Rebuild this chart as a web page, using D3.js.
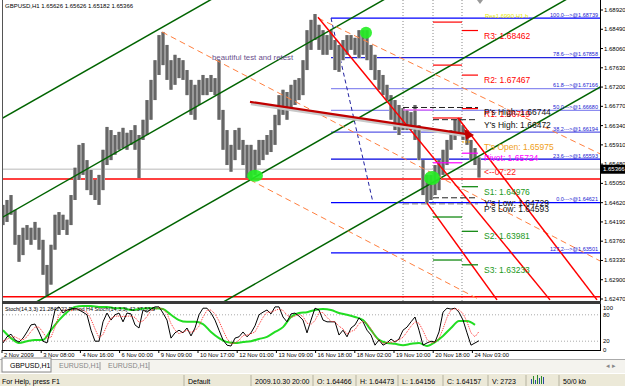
<!DOCTYPE html>
<meta charset="utf-8">
<style>
body { margin: 0; background: #fff; }
text { font-family: "Liberation Sans", Arial, sans-serif; }
</style>
<body>
<script src="https://d3js.org/d3.v7.min.js"></script>
<script>
// GBPUSD H1 bars, each point is a small group of hourly bars (high / low)
var barHigh = [1.6457,1.6468,1.6479,1.6446,1.6390,1.6406,1.6412,1.6406,1.6419,1.6406,
  1.6379,1.6323,1.6368,1.6435,1.6441,1.6435,1.6424,1.6479,1.6540,1.6591,
  1.6595,1.6557,1.6535,1.6513,1.6524,1.6580,1.6631,1.6624,1.6613,1.6620,
  1.6629,1.6618,1.6624,1.6635,1.6613,1.6647,1.6691,1.6736,1.6780,1.6836,
  1.6843,1.6814,1.6780,1.6792,1.6785,1.6780,1.6758,1.6736,1.6725,1.6736,
  1.6747,1.6740,1.6747,1.6740,1.6780,1.6669,1.6624,1.6591,1.6624,1.6629,
  1.6602,1.6591,1.6591,1.6580,1.6602,1.6602,1.6613,1.6624,1.6658,1.6702,
  1.6714,1.6709,1.6725,1.6736,1.6740,1.6780,1.6847,1.6870,1.6883,1.6859,
  1.6847,1.6836,1.6847,1.6825,1.6814,1.6825,1.6836,1.6836,1.6830,1.6847,
  1.6847,1.6847,1.6814,1.6792,1.6758,1.6747,1.6725,1.6702,1.6691,1.6680,
  1.6673,1.6669,1.6664,1.6680,1.6635,1.6557,1.6524,1.6524,1.6546,1.6557,
  1.6580,1.6602,1.6624,1.6647,1.6651,1.6635,1.6624,1.6602,1.6584,1.6563];
var barLow = [1.6412,1.6419,1.6435,1.6368,1.6330,1.6345,1.6379,1.6368,1.6379,1.6357,
  1.6301,1.6254,1.6279,1.6357,1.6390,1.6401,1.6390,1.6412,1.6468,1.6513,
  1.6524,1.6490,1.6479,1.6468,1.6457,1.6490,1.6546,1.6557,1.6569,1.6580,
  1.6584,1.6580,1.6591,1.6580,1.6517,1.6602,1.6613,1.6647,1.6691,1.6747,
  1.6769,1.6736,1.6714,1.6725,1.6740,1.6736,1.6702,1.6658,1.6647,1.6680,
  1.6702,1.6702,1.6709,1.6702,1.6647,1.6580,1.6546,1.6531,1.6557,1.6580,
  1.6546,1.6517,1.6513,1.6524,1.6546,1.6557,1.6569,1.6575,1.6591,1.6635,
  1.6658,1.6647,1.6669,1.6680,1.6691,1.6702,1.6758,1.6803,1.6825,1.6803,
  1.6792,1.6792,1.6803,1.6758,1.6754,1.6780,1.6792,1.6803,1.6792,1.6785,
  1.6792,1.6780,1.6758,1.6736,1.6714,1.6702,1.6691,1.6647,1.6624,1.6613,
  1.6624,1.6624,1.6624,1.6602,1.6557,1.6479,1.6461,1.6468,1.6479,1.6490,
  1.6524,1.6546,1.6580,1.6602,1.6613,1.6602,1.6591,1.6557,1.6546,1.6518];

// stochastic (14,3,3) main / signal, and H4 stoch (every 2nd point)
var stochMain = [16,30,36,23,18,27,41,57,59,41, 20,16,50,91,98,84,91,93,95,91,
  86,80,45,20,20,64,84,68,80,84, 64,84,82,57,50,91,86,93,98,98,
  84,68,27,39,45,39,50,32,50,80, 95,95,84,68,45,23,11,9,27,30,
  41,30,39,55,80,86,91,82,98,98, 75,64,82,84,77,68,39,68,95,91,
  68,64,64,64,34,45,30,50,57,73, 64,45,34,11,23,11,16,25,18,25,
  45,52,64,75,45,11,16,20,18,41, 86,95,93,95,86,68,39,11,16,21];
var stochSignal = [20,24,30,30,25,23,30,42,52,52, 40,26,29,52,80,91,91,89,93,93,
  90,86,70,48,28,35,56,72,77,77, 76,77,77,74,63,66,76,90,92,96,
  93,83,60,45,37,41,45,40,44,54, 75,90,91,82,66,45,26,14,16,22,
  33,34,37,41,58,74,86,86,90,93, 90,79,74,77,81,76,61,58,67,85,
  85,74,65,64,54,48,36,42,46,60, 65,61,48,30,22,15,17,17,20,23,
  29,41,54,64,61,44,24,16,18,26, 48,74,91,94,91,83,64,39,30,42];
var stochH4 = [45,27,16,20,23,23,45,68,86,98, 100,100,98,98,95,95,91,93,95,95,
  93,80,68,64,64,59,41,27,18,16, 18,20,25,30,41,52,75,84,86,91,
  93,91,84,80,75,68,45,23,16,14, 11,14,16,9,18,32,50,66,66,57];

var priceTicks = ["1.68920","1.68490","1.68060","1.67630","1.67200","1.66770","1.66340","1.65910",
  "1.65480","1.65050","1.64620","1.64190","1.63760","1.63330","1.62900","1.62470"];
var timeLabels = ["2 Nov 2009","3 Nov 08:00","4 Nov 16:00","6 Nov 00:00","9 Nov 09:00","10 Nov 17:00",
  "12 Nov 01:00","13 Nov 09:00","16 Nov 18:00","18 Nov 02:00","19 Nov 10:00","20 Nov 18:00","24 Nov 03:00"];
var timeIdx = [-0.25,9.55,19.35,29.15,38.95,48.75,58.55,68.35,78.15,87.95,97.75,107.55,117.35];

// drawn objects: [index, price] pairs
var channelLines = [[[0,1.6651],[51.75,1.6914]], [[0,1.6430],[95,1.6914]],
  [[11,1.6254],[140.5,1.6914]], [[56,1.6245],[149.25,1.6720]]];
var dashLines = [[[39.75,1.6843],[149.25,1.6332]], [[78.75,1.6874],[149.25,1.6571]],
  [[61.75,1.6513],[119.25,1.6245]]];
var redLines = [[[78.75,1.6876],[136.75,1.6245]], [[106,1.6461],[123.5,1.6245]],
  [[113.75,1.6651],[148.5,1.6245]]];
var trendArrow = [[61.75,1.6687],[116,1.6615]];
var redLevels = [1.6515, 1.6252];
var bid = 1.65366;

var fibNames = ["100.0","78.6","61.8","50.0","38.2","23.6","0.0","127.2"];
var fibPrices = [1.68739,1.67858,1.67166,1.66680,1.66194,1.65593,1.64621,1.63501];
var fibColors = ["#0000ff","#2323dd","#8c8cf0","#8c8cf0","#5a5ae6","#0000e0","#0000ff","#0000ff"];
var fibLeg = [[82,1.68739],[92.5,1.64621]];

var daySeps = [100, 107.5, 114.75];
var pivotNames = ["R3","R2","R1","Pivot","S1","S2","S3"];
var pivotToday = [1.68462,1.67467,1.66719,1.65724,1.64976,1.63981,1.63233];
var pivotPrev = [1.6865,1.6769,1.6651,1.6551,1.6430,1.6334,null];
var pivotColors = ["#ff0000","#ff0000","#ff0000","#ff00ff","#008000","#008000","#008000"];
var extraNames = ["P's High","Y's High","Y's Low","P's Low"];
var extraPrices = [1.66744,1.66472,1.64729,1.64593];
var extraStart = [100,107.5,107.5,100];
var tOpen = 1.65975;
var circles = [[63,1.6522,8,6],[107.25,1.6517,8,7],[90.75,1.6841,6,6]];

var W = 625, H = 386;
var svg = d3.select("body").append("svg").attr("width", W).attr("height", H).style("display", "block");
svg.append("rect").attr("width", W).attr("height", H).attr("fill", "#fff");

var x = d3.scaleLinear().domain([0, 119]).range([3, 479]);
var y = d3.scaleLinear().domain([1.62470, 1.68920]).range([299, 10]);
var ys = d3.scaleLinear().domain([0, 100]).range([350, 306]);

svg.append("clipPath").attr("id", "mainClip").append("rect")
  .attr("x", 3).attr("y", 0).attr("width", 597).attr("height", 301);
svg.append("clipPath").attr("id", "stClip").append("rect")
  .attr("x", 3).attr("y", 304).attr("width", 597).attr("height", 46);

var g = svg.append("g").attr("clip-path", "url(#mainClip)");
var line = d3.line().x(function(d) { return x(d[0]); }).y(function(d) { return y(d[1]); });

// day separators
g.selectAll(".sep").data(daySeps).enter().append("line")
  .attr("x1", function(d) { return x(d); }).attr("x2", function(d) { return x(d); })
  .attr("y1", 0).attr("y2", 301).attr("stroke", "#888").attr("stroke-dasharray", "1,2");

// bid line and red levels
g.append("line").attr("x1", 3).attr("x2", 600).attr("y1", y(bid)).attr("y2", y(bid))
  .attr("stroke", "#d0d0d0").attr("stroke-width", 1.5);
g.selectAll(".lvl").data(redLevels).enter().append("line")
  .attr("x1", 3).attr("x2", 600).attr("y1", function(d) { return y(d); }).attr("y2", function(d) { return y(d); })
  .attr("stroke", "#ff0000").attr("stroke-width", 1.5);

// fibonacci
g.selectAll(".fib").data(fibPrices).enter().append("line")
  .attr("x1", x(82)).attr("x2", 600).attr("y1", function(d) { return y(d); }).attr("y2", function(d) { return y(d); })
  .attr("stroke", function(d, i) { return fibColors[i]; }).attr("stroke-width", 1.2);
g.append("path").attr("d", line(fibLeg)).attr("stroke", "#2020a0").attr("fill", "none").attr("stroke-dasharray", "4,3");

// bars
g.selectAll(".bar").data(barHigh).enter().append("rect")
  .attr("x", function(d, i) { return x(i) - 2; }).attr("width", 4)
  .attr("y", function(d) { return y(d); })
  .attr("height", function(d, i) { return y(barLow[i]) - y(d); })
  .attr("fill", "#9a9a9a");
g.selectAll(".wick").data(barHigh).enter().append("line")
  .attr("x1", function(d, i) { return x(i); }).attr("x2", function(d, i) { return x(i); })
  .attr("y1", function(d) { return y(d); }).attr("y2", function(d, i) { return y(barLow[i]); })
  .attr("stroke", "#333").attr("stroke-width", 1);

// channel lines
g.selectAll(".ch").data(channelLines).enter().append("path")
  .attr("d", function(d) {
    var a = d[0], b = d[1], s = (b[1] - a[1]) / (b[0] - a[0]);
    return line([[-10, a[1] + s * (-10 - a[0])], [160, a[1] + s * (160 - a[0])]]);
  })
  .attr("stroke", "#006400").attr("stroke-width", 1.5).attr("fill", "none");
g.selectAll(".dl").data(dashLines).enter().append("path")
  .attr("d", line).attr("stroke", "#ff7f3f").attr("stroke-width", 1).attr("fill", "none")
  .attr("stroke-dasharray", "6,4");
g.selectAll(".rl").data(redLines).enter().append("path")
  .attr("d", line).attr("stroke", "#ff0000").attr("stroke-width", 1.5).attr("fill", "none");

// trend arrow with shadow
g.append("path").attr("d", line(trendArrow)).attr("transform", "translate(1,2)")
  .attr("stroke", "#c8c8c8").attr("stroke-width", 3).attr("fill", "none");
g.append("path").attr("d", line(trendArrow)).attr("stroke", "#c00000").attr("stroke-width", 2.2).attr("fill", "none");
var ax = x(trendArrow[1][0]), ay = y(trendArrow[1][1]);
g.append("path").attr("d", "M" + (ax + 7) + "," + (ay + 1) + "L" + (ax - 3) + "," + (ay - 5) + "L" + (ax - 1) + "," + (ay + 6) + "Z")
  .attr("fill", "#c00000");

// pivot segments
pivotToday.forEach(function(p, i) {
  g.append("line").attr("x1", x(114.75)).attr("x2", x(118.75)).attr("y1", y(p)).attr("y2", y(p))
    .attr("stroke", pivotColors[i]).attr("stroke-width", 1.2);
  if (pivotPrev[i]) g.append("line").attr("x1", x(107.5)).attr("x2", x(114.75))
    .attr("y1", y(pivotPrev[i])).attr("y2", y(pivotPrev[i])).attr("stroke", pivotColors[i]).attr("stroke-width", 1.2);
});
g.append("line").attr("x1", x(100)).attr("x2", x(107.5)).attr("y1", y(1.6669)).attr("y2", y(1.6669))
  .attr("stroke", "#ff66ff").attr("stroke-width", 1.2);
extraPrices.forEach(function(p, i) {
  g.append("line").attr("x1", x(extraStart[i])).attr("x2", x(118.75)).attr("y1", y(p)).attr("y2", y(p))
    .attr("stroke", i == 3 ? "#777" : "#222").attr("stroke-dasharray", "6,3");
});
g.append("line").attr("x1", x(114.75)).attr("x2", x(117)).attr("y1", y(tOpen)).attr("y2", y(tOpen))
  .attr("stroke", "#f0a000").attr("stroke-dasharray", "2,1");

// green circles
g.selectAll(".circ").data(circles).enter().append("ellipse")
  .attr("cx", function(d) { return x(d[0]); }).attr("cy", function(d) { return y(d[1]); })
  .attr("rx", function(d) { return d[2]; }).attr("ry", function(d) { return d[3]; })
  .attr("fill", "#22ee22").attr("opacity", 0.9);

// fib labels
g.selectAll(".fibt").data(fibPrices).enter().append("text")
  .attr("x", 598).attr("y", function(d) { return y(d) - 1.5; }).attr("text-anchor", "end")
  .attr("font-size", 5.5).attr("fill", "#2020d0")
  .text(function(d, i) { return fibNames[i] + "--->@" + d.toFixed(5); });

// pivot text
var lab = g.append("g").attr("font-size", 8.5);
lab.append("text").attr("x", 485).attr("y", y(1.6874)).attr("font-size", 6).attr("fill", "#e8e800").text("Res1.6990 H1 h");
pivotToday.forEach(function(p, i) {
  lab.append("text").attr("x", 484).attr("y", y(p) + 8).attr("fill", pivotColors[i] == "#008000" ? "#229922" : pivotColors[i])
    .text(pivotNames[i] + ": " + p.toFixed(5));
});
extraPrices.forEach(function(p, i) {
  lab.append("text").attr("x", 484).attr("y", y(p) + 8).attr("fill", "#111").text(extraNames[i] + ": " + p.toFixed(5));
});
lab.append("text").attr("x", 484).attr("y", y(tOpen) + 8).attr("fill", "#f0a020").text("T's Open: " + tOpen.toFixed(5));
lab.append("text").attr("x", 484).attr("y", y(bid) + 6).attr("fill", "#ff2020").text("<--07:22");
lab.append("text").attr("x", 212).attr("y", 60).attr("font-size", 7.8).attr("fill", "#6a4f8c").text("beautiful test and retest");

// top marker and header
svg.append("path").attr("d", "M" + (x(119.25) - 3) + ",0L" + (x(119.25) + 3) + ",0L" + x(119.25) + ",4Z").attr("fill", "#999");
svg.append("text").attr("x", 5).attr("y", 8).attr("font-size", 6).attr("fill", "#000")
  .text("GBPUSD,H1  1.65626 1.65626 1.65182 1.65366");

// frame
svg.append("line").attr("x1", 2.5).attr("x2", 2.5).attr("y1", 0).attr("y2", 350).attr("stroke", "#555");
svg.append("line").attr("x1", 600.5).attr("x2", 600.5).attr("y1", 0).attr("y2", 350).attr("stroke", "#000");
svg.append("rect").attr("x", 2).attr("y", 301).attr("width", 599).attr("height", 3).attr("fill", "#3a3a3a");
svg.append("line").attr("x1", 2).attr("x2", 601).attr("y1", 350.5).attr("y2", 350.5).attr("stroke", "#000");

// price axis
var pax = svg.append("g").attr("font-size", 6).attr("fill", "#000");
priceTicks.forEach(function(t) {
  var yy = y(+t);
  pax.append("line").attr("x1", 600).attr("x2", 603).attr("y1", yy).attr("y2", yy).attr("stroke", "#000");
  pax.append("text").attr("x", 604).attr("y", yy + 2).text(t);
});
pax.append("rect").attr("x", 601).attr("y", y(bid) - 4.5).attr("width", 24).attr("height", 9).attr("fill", "#000");
pax.append("text").attr("x", 603).attr("y", y(bid) + 2).attr("fill", "#fff").text(bid.toFixed(5));

// stochastic panel
var sg = svg.append("g").attr("clip-path", "url(#stClip)");
[80, 20].forEach(function(v) {
  sg.append("line").attr("x1", 3).attr("x2", 600).attr("y1", ys(v)).attr("y2", ys(v))
    .attr("stroke", "#aaa").attr("stroke-dasharray", "1,2");
});
var sl = d3.line().x(function(d, i) { return x(i); }).y(function(d) { return ys(d); });
var sl2 = d3.line().x(function(d, i) { return x(i * 2); }).y(function(d) { return ys(d); }).curve(d3.curveMonotoneX);
sg.append("path").attr("d", sl2(stochH4)).attr("stroke", "#22dd22").attr("stroke-width", 2).attr("fill", "none");
sg.append("path").attr("d", sl(stochMain)).attr("stroke", "#000").attr("stroke-width", 1).attr("fill", "none");
sg.append("path").attr("d", sl(stochSignal)).attr("stroke", "#ff3030").attr("stroke-width", 1).attr("fill", "none")
  .attr("stroke-dasharray", "1,1");
svg.append("text").attr("x", 5).attr("y", 311).attr("font-size", 5.5).attr("fill", "#000")
  .text("Stoch(14,3,3) 21.2842.22  Period H4 Stoch(14,3,3) 42.37 53.9");
var stLabels = [100, 80, 20, 0];
stLabels.forEach(function(v) {
  svg.append("text").attr("x", 603).attr("y", ys(v) + (v == 100 ? 3.5 : 2)).attr("font-size", 6).text(v);
});

// time axis
var tax = svg.append("g").attr("font-size", 5.8);
timeLabels.forEach(function(t, i) {
  var xx = x(timeIdx[i]);
  tax.append("line").attr("x1", xx).attr("x2", xx).attr("y1", 350).attr("y2", 353).attr("stroke", "#000");
  tax.append("text").attr("x", xx + 2).attr("y", 357).text(t);
});

// tabs
svg.append("rect").attr("x", 0).attr("y", 359).attr("width", W).attr("height", 14).attr("fill", "#f4f3ee");
svg.append("line").attr("x1", 0).attr("x2", W).attr("y1", 359.5).attr("y2", 359.5).attr("stroke", "#aaa");
var tabs = ["GBPUSD,H1", "EURUSD,H1", "EURUSD,H1"];
tabs.forEach(function(t, i) {
  var tx = 2 + i * 49;
  if (i == 0) svg.append("rect").attr("x", tx).attr("y", 358).attr("width", 49).attr("height", 14)
    .attr("fill", "#fff").attr("stroke", "#888");
  else svg.append("line").attr("x1", tx + 49).attr("x2", tx + 49).attr("y1", 362).attr("y2", 370).attr("stroke", "#999");
  svg.append("text").attr("x", tx + 8).attr("y", 368).attr("font-size", 7).attr("fill", i == 0 ? "#000" : "#888").text(t);
});
svg.append("text").attr("x", 606).attr("y", 368).attr("font-size", 7).attr("fill", "#888").text("◂ ▸");

// status bar
svg.append("rect").attr("x", 0).attr("y", 374).attr("width", W).attr("height", 12).attr("fill", "#ece9d8");
var statusText = ["For Help, press F1", "Default", "2009.10.30 20:00", "O: 1.64466", "H: 1.64473", "L: 1.64156", "C: 1.64157", "V: 2723", "", "50/0 kb"];
var statusX = [2, 188, 255, 317, 360, 402, 447, 492, 530, 563];
statusText.forEach(function(t, i) {
  if (i > 0) svg.append("line").attr("x1", statusX[i] - 4).attr("x2", statusX[i] - 4).attr("y1", 375).attr("y2", 386).attr("stroke", "#b5b2a0");
  svg.append("text").attr("x", statusX[i]).attr("y", 384).attr("font-size", 7).attr("fill", "#000").text(t);
});
var icon = [5, 8, 4, 9, 6, 8, 7];
icon.forEach(function(h, i) {
  svg.append("rect").attr("x", 531 + i * 2).attr("y", 384 - h).attr("width", 1).attr("height", h)
    .attr("fill", i % 2 ? "#2a8a2a" : "#2a4aa0");
});
</script>
</body>
